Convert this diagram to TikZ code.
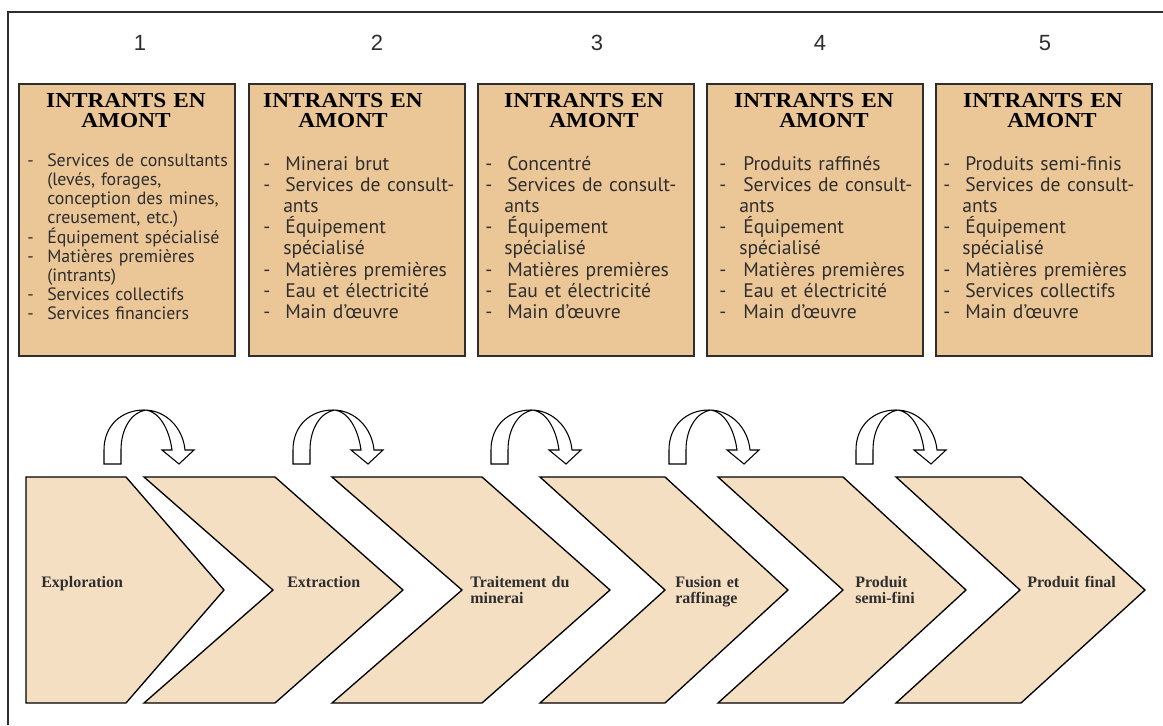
\documentclass[tikz,border=0pt]{standalone}
\usepackage{fontspec}
\setmainfont{Liberation Serif}
\newfontfamily\titlefont[FakeStretch=1.09]{Liberation Serif}
\newfontfamily\listfont{PT Sans}
\newfontfamily\numfont{Liberation Sans}
\definecolor{boxfill}{HTML}{EBC697}
\definecolor{stagefill}{HTML}{F5DFC3}
\definecolor{inkgray}{HTML}{2E2E2E}
\newcommand{\itm}[1][16.5pt]{\makebox[#1][l]{-}}
\newcommand{\cnt}[1][15pt]{\hspace*{#1}}

\begin{document}
\begin{tikzpicture}[x=0.75pt,y=-0.75pt,
  inbox/.style={draw=inkgray, line width=1.5pt, fill=boxfill, minimum width=162pt, minimum height=204pt, inner sep=0pt, anchor=north west},
  numlabel/.style={font=\numfont\fontsize{16.5}{17}\selectfont, text=inkgray, anchor=base, inner sep=0pt},
  hdr/.style={font=\titlefont\bfseries\fontsize{16}{15}\selectfont, text width=162pt, align=center, anchor=base, inner sep=0pt},
  items/.style={font=\listfont\fontsize{14.7}{15.9}\selectfont, text=inkgray, text width=190pt, align=left, anchor=base west, inner sep=0pt},
  stage/.style={draw=black, line width=1pt, fill=stagefill, line join=miter},
  stagelabel/.style={font=\bfseries\fontsize{12}{12}\selectfont, text=inkgray, text width=110pt, align=left, anchor=base west, inner sep=0pt},
  turnarrow/.style={draw=black, line width=0.8pt, fill=white, line join=miter}]
\useasboundingbox (0,0) rectangle (1163,725);

% frame
\draw[inkgray, line width=1pt] (8,725) -- (8,12) -- (1163,12);

% numbers
\node[numlabel] (n1) at (140,50) {1};
\node[numlabel] (n2) at (377,50) {2};
\node[numlabel] (n3) at (597,50) {3};
\node[numlabel] (n4) at (820,50) {4};
\node[numlabel] (n5) at (1045,50) {5};

% upstream input boxes
\node[inbox] (b1) at (18,82.5) {};
\node[inbox] (b2) at (248,82.5) {};
\node[inbox] (b3) at (477,82.5) {};
\node[inbox] (b4) at (706,82.5) {};
\node[inbox] (b5) at (935,82.5) {};

\node[hdr] (h1) at (126,107) {INTRANTS EN\\AMONT};
\node[hdr] (h2) at (343,107) {INTRANTS EN\\AMONT\hspace*{22.5pt}};
\node[hdr] (h3) at (584,107) {INTRANTS EN\\\hspace*{15pt}AMONT};
\node[hdr] (h4) at (814,107) {INTRANTS EN\\\hspace*{15pt}AMONT};
\node[hdr] (h5) at (1043,107) {INTRANTS EN\\\hspace*{13.5pt}AMONT};

\node[items, font=\listfont\fontsize{13.4}{14.25}\selectfont] (l1) at (27,166) {\itm[15pt]Services de consultants\\
  \cnt(levés, forages,\\ \cnt conception des mines,\\ \cnt creusement, etc.)\\
  \itm[15pt]Équipement spécialisé\\ \itm[15pt]Matières premières\\ \cnt(intrants)\\
  \itm[15pt]Services collectifs\\ \itm[15pt]Services financiers};
\node[items] (l2) at (263,170) {\itm Minerai brut\\ \itm Services de consult-\\ \cnt ants\\
  \itm Équipement\\ \cnt spécialisé\\ \itm Matières premières\\
  \itm Eau et électricité\\ \itm Main d’œuvre};
\node[items] (l3) at (485,170) {\itm Concentré\\ \itm Services de consult-\\ \cnt[14.25pt]ants\\
  \itm Équipement\\ \cnt[14.25pt]spécialisé\\ \itm Matières premières\\
  \itm Eau et électricité\\ \itm Main d’œuvre};
\node[items] (l4) at (719,170) {\itm[18pt]Produits raffinés\\ \itm[18pt]Services de consult-\\ \cnt ants\\
  \itm[18pt]Équipement\\ \cnt spécialisé\\ \itm[18pt]Matières premières\\
  \itm[18pt]Eau et électricité\\ \itm[18pt]Main d’œuvre};
\node[items] (l5) at (943,170) {\itm Produits semi-finis\\ \itm Services de consult-\\ \cnt[14.25pt]ants\\
  \itm Équipement\\ \cnt[14.25pt]spécialisé\\ \itm Matières premières\\
  \itm Services collectifs\\ \itm Main d’œuvre};

% value chain stages
\foreach \xa/\xb/\xc/\xd in {26/26/126/224, 144/273/275/403, 332/462/482/610,
    540/665/665/788, 718/843/843/966, 896/1020/1021/1145}
  \draw[stage] (\xa,477) -- (\xc,477) -- (\xd,590) -- (\xc,703) -- (\xa,703) -- (\xb,590) -- cycle;

\node[stagelabel] (s1) at (41,587) {Exploration};
\node[stagelabel] (s2) at (287,587) {Extraction};
\node[stagelabel] (s3) at (470,587) {Traitement du\\minerai};
\node[stagelabel] (s4) at (675,587) {Fusion et\\raffinage};
\node[stagelabel] (s5) at (855,587) {Produit\\semi-fini};
\node[stagelabel] (s6) at (1027,587) {Produit final};

% turning arrows
\foreach \x [count=\i] in {104,293,491,669,856} {
  \coordinate (turn\i) at (\x,464);
  \draw[turnarrow, shift={(turn\i)}] (0,0) -- (0,-14)
    .. controls (0,-39) and (18,-54) .. (40,-54)
    .. controls (62,-54) and (79,-36) .. (81,-14) -- (90,-14) -- (75,0) -- (58,-14) -- (68,-14)
    .. controls (65,-36) and (55,-52) .. (42,-54)
    .. controls (28,-52) and (17,-36) .. (17,-14) -- (17,0) -- cycle;
}
\end{tikzpicture}
\end{document}
